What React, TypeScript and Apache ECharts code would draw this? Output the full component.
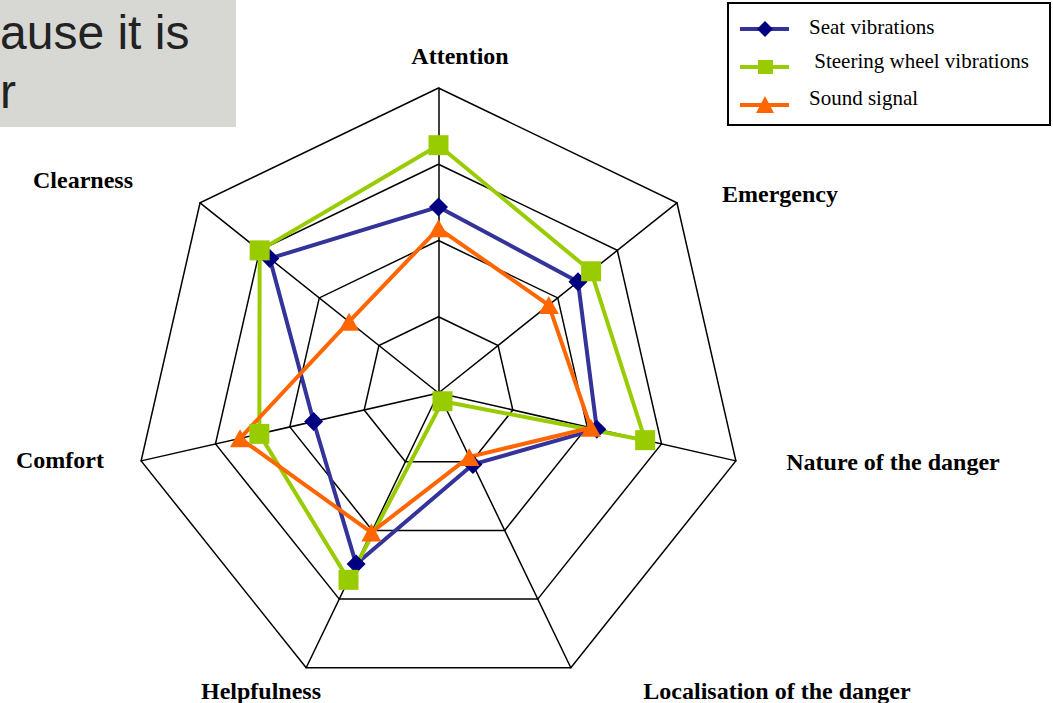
import React, { useEffect, useRef } from "react";
import * as echarts from "echarts";

// Axes in clockwise order starting at the top
const categories = [
  "Attention",
  "Emergency",
  "Nature of the danger",
  "Localisation of the danger",
  "Helpfulness",
  "Comfort",
  "Clearness",
];
const axisMax = 4;

const seriesNames = ["Seat vibrations", " Steering wheel vibrations", "Sound signal"];
const seatVibrations = [2.44, 2.34, 2.13, 1.04, 2.49, 1.68, 2.83];
const steeringWheelVibrations = [3.25, 2.56, 2.78, 0.12, 2.72, 2.41, 3.0];
const soundSignal = [2.16, 1.85, 2.05, 0.93, 2.03, 2.67, 1.5];

const overlayLines = ["ause it is", "r"];

const CX = 438.5;
const CY = 393;
const R = 305;

// label centres (layout)
const labelPos: [number, number][] = [
  [460, 56],
  [780, 194],
  [893, 462],
  [777, 691],
  [261, 691],
  [60, 460],
  [83, 180],
];

// ECharts lays radar indicators out counter-clockwise; reorder clockwise data
const order = [0, 6, 5, 4, 3, 2, 1];
const reorder = (arr: any[]) => order.map((i) => arr[i]);

export default function App() {
  const ref = useRef<HTMLDivElement>(null);
  useEffect(() => {
    document.body.style.margin = "0";
    if (!ref.current) return;
    const chart = echarts.init(ref.current, undefined, { renderer: "svg" });

    const serif = '"Liberation Serif", "Times New Roman", serif';
    const graphics: any[] = [];

    // gray overlay box (from slide)
    graphics.push({
      type: "rect",
      shape: { x: 0, y: 0, width: 236, height: 127 },
      style: { fill: "#d7d8d4" },
      z: 10,
    });
    graphics.push({
      type: "text",
      x: 0,
      y: 8,
      style: {
        text: overlayLines[0],
        font: '48px "Liberation Sans", Arial, sans-serif',
        fill: "#222222",
        textVerticalAlign: "top",
      },
      z: 11,
    });
    graphics.push({
      type: "text",
      x: 0,
      y: 67,
      style: {
        text: overlayLines[1],
        font: '48px "Liberation Sans", Arial, sans-serif',
        fill: "#222222",
        textVerticalAlign: "top",
      },
      z: 11,
    });

    // axis labels
    categories.forEach((name, i) => {
      graphics.push({
        type: "text",
        x: labelPos[i][0],
        y: labelPos[i][1],
        style: {
          text: name,
          font: `bold 24px ${serif}`,
          fill: "#000",
          textAlign: "center",
          textVerticalAlign: "middle",
        },
      });
    });

    // legend box
    graphics.push({
      type: "rect",
      shape: { x: 728, y: 3, width: 322, height: 122 },
      style: { fill: "#fff", stroke: "#000", lineWidth: 2 },
      z: 5,
    });
    const legRowsLine = [29, 67, 105];
    const legRowsText = [27, 61, 98];
    const lineColors = ["#333399", "#99cc00", "#ff6600"];
    const markColors = ["#000080", "#99cc00", "#ff6600"];
    legRowsLine.forEach((y, i) => {
      graphics.push({
        type: "line",
        shape: { x1: 740, y1: y, x2: 789, y2: y },
        style: { stroke: lineColors[i], lineWidth: 4 },
        z: 6,
      });
    });
    // diamond
    graphics.push({
      type: "polygon",
      shape: { points: [[765, 21], [773, 29], [765, 37], [757, 29]] },
      style: { fill: markColors[0] },
      z: 7,
    });
    // square
    graphics.push({
      type: "rect",
      shape: { x: 758, y: 60, width: 15, height: 14 },
      style: { fill: markColors[1] },
      z: 7,
    });
    // triangle
    graphics.push({
      type: "polygon",
      shape: { points: [[765, 96], [774, 113], [756, 113]] },
      style: { fill: markColors[2] },
      z: 7,
    });
    seriesNames.forEach((n, i) => {
      graphics.push({
        type: "text",
        x: 809,
        y: legRowsText[i],
        style: {
          text: n,
          font: `21px ${serif}`,
          fill: "#000",
          textVerticalAlign: "middle",
        },
        z: 7,
      });
    });

    const mk = (name: string, data: number[], symbol: string, size: any, lineColor: string, markColor: string) => ({
      type: "radar",
      name,
      symbol,
      symbolSize: size,
      data: [{ value: reorder(data), name }],
      lineStyle: { color: lineColor, width: 4 },
      itemStyle: { color: markColor },
    });

    chart.setOption({
      animation: false,
      backgroundColor: "#ffffff",
      radar: {
        center: [CX, CY],
        radius: R,
        startAngle: 90,
        splitNumber: 4,
        shape: "polygon",
        indicator: reorder(categories).map((name: string) => ({ name, min: 0, max: axisMax })),
        axisName: { show: false },
        splitLine: { lineStyle: { color: "#000", width: 1.5 } },
        splitArea: { show: false },
        axisLine: { lineStyle: { color: "#000", width: 1.5 } },
        axisTick: { show: false },
        axisLabel: { show: false },
      },
      series: [
        mk(seriesNames[0], seatVibrations, "diamond", 19, "#333399", "#000080"),
        mk(seriesNames[1], steeringWheelVibrations, "rect", 20, "#99cc00", "#99cc00"),
        mk(seriesNames[2], soundSignal, "triangle", [20, 18], "#ff6600", "#ff6600"),
      ],
      graphic: graphics,
    });
    return () => chart.dispose();
  }, []);
  return <div ref={ref} style={{ width: 1053, height: 703 }} />;
}
